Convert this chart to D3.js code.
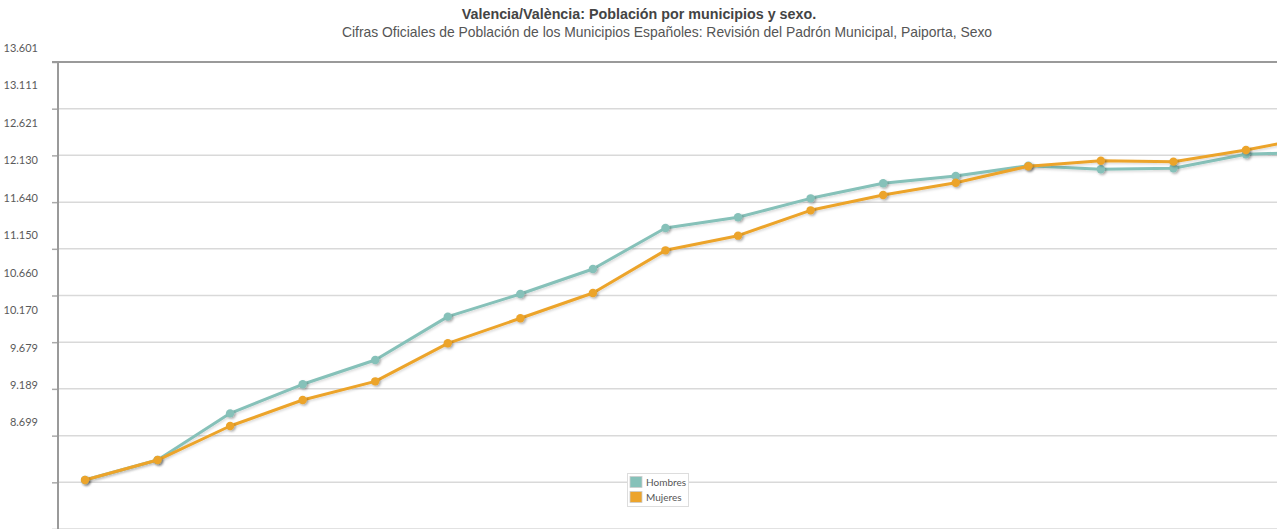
<!DOCTYPE html>
<html><head><meta charset="utf-8">
<script src="https://cdn.jsdelivr.net/npm/d3@7"></script>
<style>
html,body{margin:0;padding:0;background:#fff;overflow:hidden}
svg{display:block}
</style></head><body>
<svg id="c" width="1287" height="529"></svg>
<script>
const years = [2005,2006,2007,2008,2009,2010,2011,2012,2013,2014,2015,2016,2017,2018,2019,2020,2021,2022];
const hombres = [9213,9423,9913,10218,10473,10928,11166,11428,11859,11971,12170,12328,12404,12512,12475,12485,12632,12656];
const mujeres = [9213,9423,9780,10053,10249,10648,10911,11176,11624,11778,12044,12205,12334,12507,12565,12555,12677,12824];
const tickValues = [13601,13111,12621,12130,11640,11150,10660,10170,9679,9189,8699];
const tickLabels = ["13.601","13.111","12.621","12.130","11.640","11.150","10.660","10.170","9.679","9.189","8.699"];
const seriesNames = ["Hombres","Mujeres"];
const colors = ["#86c1b9","#eca42c"];

const svg = d3.select("#c");
const L = 58, R = 1277, T = 62, B = 529;

const x = d3.scalePoint().domain(years).range([85, 85 + 72.56*(years.length-1)]);
const y = d3.scaleLinear().domain([8699,13601]).range([B, T]);
const yLab = d3.scaleLinear().domain([8699,13601]).range([422.3, 48]);

const defs = svg.append("defs");
defs.append("clipPath").attr("id","clip").append("rect")
  .attr("x",L).attr("y",T-10).attr("width",R-L).attr("height",B-T+20);
const f = defs.append("filter").attr("id","sh").attr("x","-50%").attr("y","-50%").attr("width","200%").attr("height","200%");
f.append("feDropShadow").attr("dx",1.5).attr("dy",1.5).attr("stdDeviation",1.2)
  .attr("flood-color","#000").attr("flood-opacity",0.3);
const f2 = defs.append("filter").attr("id","shl").attr("x","-10%").attr("y","-10%").attr("width","120%").attr("height","120%");
f2.append("feDropShadow").attr("dx",1).attr("dy",1.5).attr("stdDeviation",1.2)
  .attr("flood-color","#000").attr("flood-opacity",0.15);

// title
svg.append("text").attr("x",639).attr("y",19).attr("text-anchor","middle")
  .attr("font-family","Liberation Sans, Arial, sans-serif").attr("font-size",14.3).attr("font-weight","bold")
  .attr("fill","#444").text("Valencia/València: Población por municipios y sexo.");
svg.append("text").attr("x",667).attr("y",37).attr("text-anchor","middle")
  .attr("font-family","Liberation Sans, Arial, sans-serif").attr("font-size",13.9).attr("fill","#555")
  .text("Cifras Oficiales de Población de los Municipios Españoles: Revisión del Padrón Municipal, Paiporta, Sexo");

// gridlines
svg.append("g").selectAll("line").data(tickValues.slice(1)).join("line")
  .attr("x1",L).attr("x2",R).attr("y1",d=>y(d)).attr("y2",d=>y(d))
  .attr("stroke","#d9d9d9").attr("stroke-width",1.5);

// axis ticks
const ax = svg.append("g").attr("transform",`translate(${L},0)`)
  .call(d3.axisLeft(y).tickValues(tickValues).tickSize(6).tickFormat(""));
ax.select(".domain").remove();
ax.selectAll(".tick line").attr("stroke","#aaa").attr("stroke-width",1.5);

// labels axis
const axl = svg.append("g").attr("transform",`translate(38,0)`)
  .call(d3.axisLeft(yLab).tickValues(tickValues).tickSize(0).tickPadding(0)
    .tickFormat((d,i)=>tickLabels[i]));
axl.select(".domain").remove();
axl.selectAll("text").attr("font-family","Lato, Liberation Sans, sans-serif").attr("font-size",11).attr("fill","#5a5a5a");

// frame
svg.append("line").attr("x1",L-6).attr("x2",R).attr("y1",T).attr("y2",T).attr("stroke","#9a9a9a").attr("stroke-width",2);
svg.append("line").attr("x1",L).attr("x2",L).attr("y1",T).attr("y2",B+2).attr("stroke","#9a9a9a").attr("stroke-width",2);

// series
const series = [hombres, mujeres];
const g = svg.append("g").attr("clip-path","url(#clip)");
series.forEach((vals,si)=>{
  const line = d3.line().x((d,i)=>x(years[i])).y(d=>y(d));
  g.append("path").datum(vals).attr("d",line).attr("fill","none")
    .attr("stroke",colors[si]).attr("stroke-width",3).attr("stroke-linejoin","round")
    .attr("filter","url(#shl)");
  g.append("g").selectAll("circle").data(vals).join("circle")
    .attr("cx",(d,i)=>x(years[i])).attr("cy",d=>y(d)).attr("r",4.2)
    .attr("fill",colors[si]).attr("filter","url(#sh)");
});

// legend
const lg = svg.append("g");
lg.append("rect").attr("x",627.5).attr("y",473.5).attr("width",61).attr("height",33)
  .attr("fill","#fff").attr("stroke","#ddd").attr("stroke-width",1);
seriesNames.forEach((n,i)=>{
  lg.append("rect").attr("x",630).attr("y",476.5+i*15).attr("width",12).attr("height",11)
    .attr("fill",colors[i]).attr("stroke","#ccc").attr("stroke-width",0.8);
  lg.append("text").attr("x",646).attr("y",486+i*14.5).attr("font-family","Lato, Liberation Sans, sans-serif")
    .attr("font-size",10).attr("fill","#555").text(n);
});
</script>
</body></html>
